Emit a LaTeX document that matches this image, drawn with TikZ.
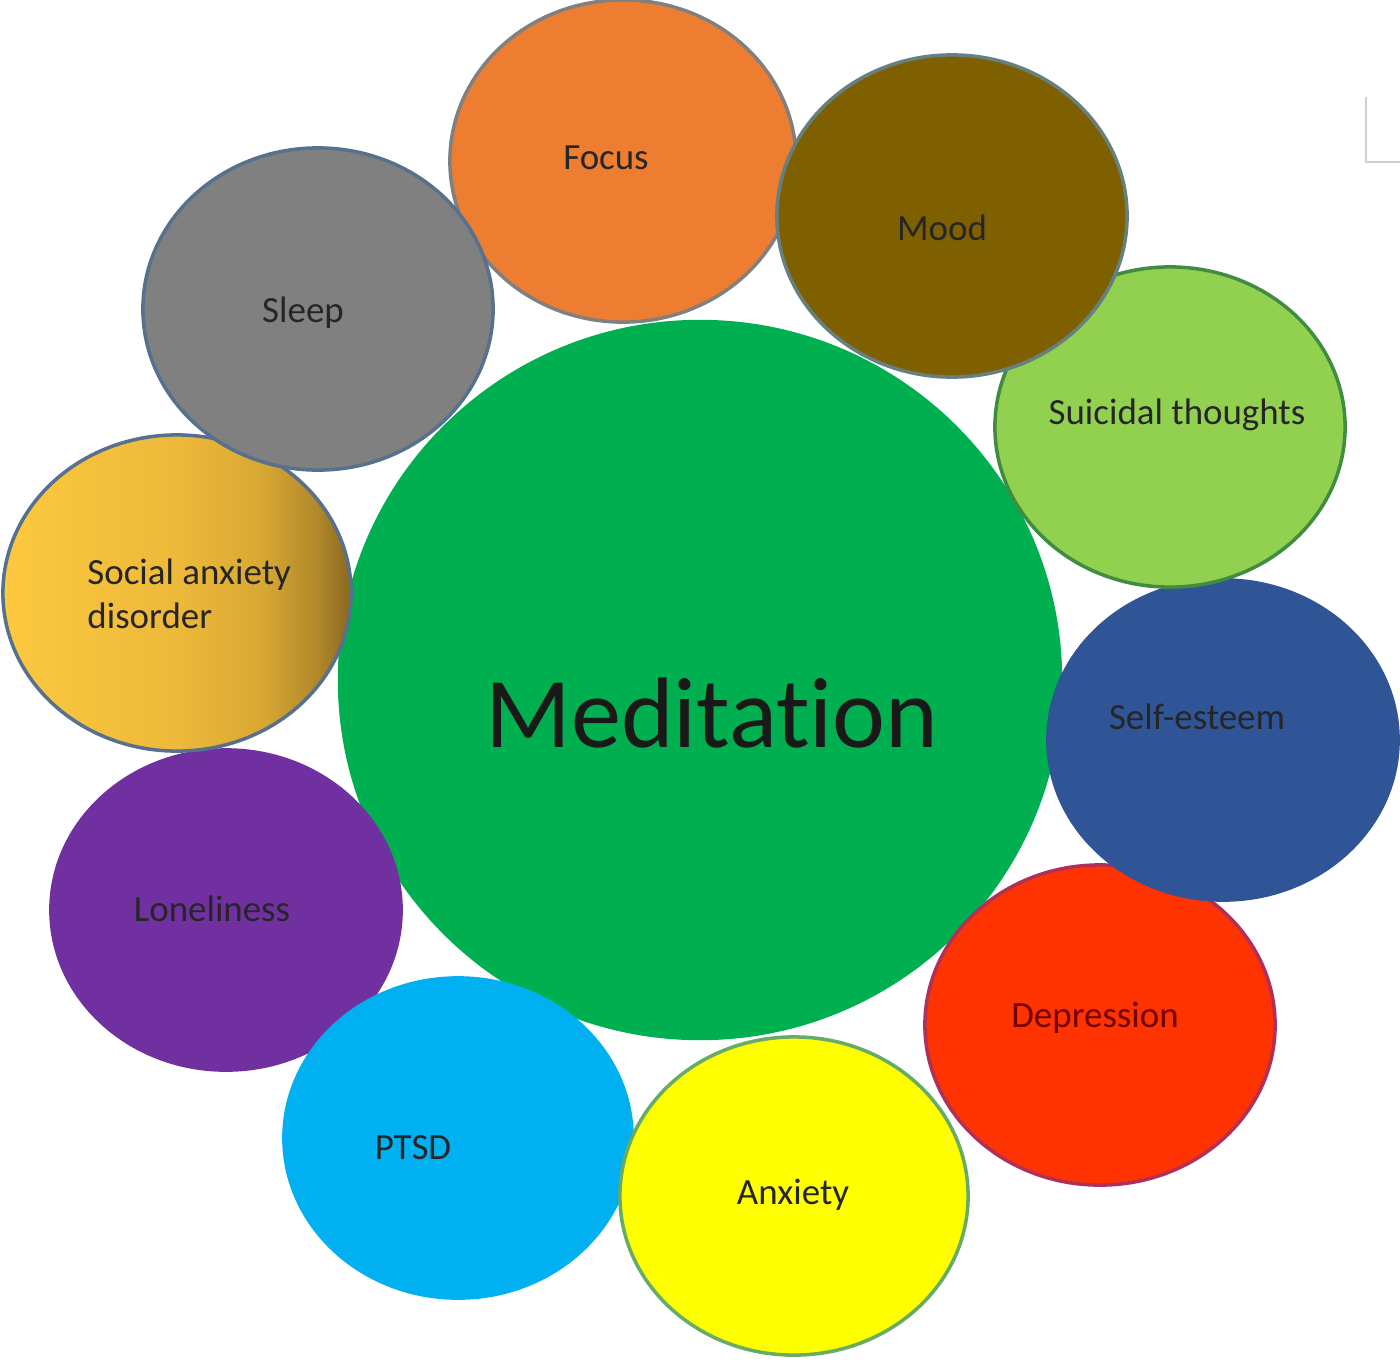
\documentclass[tikz,border=0pt]{standalone}
\usepackage{fontspec}
\setmainfont{Carlito}[Ligatures=NoCommon]
\usetikzlibrary{shapes.geometric}
\definecolor{medgreen}{HTML}{00B050}
\definecolor{focusorange}{HTML}{ED7D31}
\definecolor{moodbrown}{HTML}{7F6000}
\definecolor{suicidalgreen}{HTML}{92D050}
\definecolor{esteemblue}{HTML}{2F5597}
\definecolor{depred}{HTML}{FF3300}
\definecolor{deprim}{HTML}{B0305A}
\definecolor{anxyellow}{HTML}{FFFF00}
\definecolor{ptsdblue}{HTML}{00B0F0}
\definecolor{lonepurple}{HTML}{7030A0}
\definecolor{sleepgray}{HTML}{808080}
\definecolor{socialgoldA}{HTML}{FCC93F}
\definecolor{socialgoldB}{HTML}{EDB93A}
\definecolor{socialgoldC}{HTML}{8A6820}
\definecolor{rimblue}{HTML}{56708E}
\definecolor{bracketgray}{HTML}{C5D2DC}
\pgfdeclarehorizontalshading{socialshade}{100bp}{
  color(0bp)=(socialgoldA); color(25bp)=(socialgoldA); color(50bp)=(socialgoldB);
  color(62bp)=(socialgoldB!80!socialgoldC); color(70bp)=(socialgoldB!40!socialgoldC);
  color(75bp)=(socialgoldC); color(100bp)=(socialgoldC)}
\begin{document}
\begin{tikzpicture}[
        x=0.01cm, y=-0.01cm,
        bubble/.style={
          ellipse,
          draw=rimblue,
          line width=1pt,
          minimum width=3.5cm,
          minimum height=3.2cm,
          inner sep=0pt
        },
        caption/.style={font=\fontsize{10.5}{12.5}\selectfont, text=black!85}
      ]
      \useasboundingbox (0,0) rectangle (1400,1363);

      % centre bubble
      \node[ellipse, fill=medgreen, minimum width=7.24cm, minimum height=7.2cm,
        inner sep=0pt] (meditation) at (700,680) {};
      \node[font=\fontsize{28.5}{32}\selectfont, text=black!90] (meditationtxt)
        at (712,713) {Meditation};

      % outer bubbles
      \node[bubble, fill=lonepurple, draw=lonepurple] (loneliness) at (226,910) {};
      \node[bubble, fill=ptsdblue, draw=ptsdblue, minimum width=3.48cm] (ptsd)
        at (458,1138) {};
      \node[bubble, fill=anxyellow, draw=black!55!green!60, minimum width=3.48cm,
        minimum height=3.18cm] (anxiety) at (794,1196) {};
      \node[bubble, fill=depred, draw=deprim] (depression) at (1100,1025) {};
      \node[bubble, fill=esteemblue, draw=esteemblue] (selfesteem) at (1223,740) {};
      \node[bubble, fill=suicidalgreen, draw=black!40!green!50!gray] (suicidal)
        at (1170,427) {};
      \node[bubble, fill=focusorange, draw=gray, minimum width=3.46cm,
        minimum height=3.22cm] (focus) at (623,161) {};
      \node[bubble, fill=moodbrown, draw=gray!80!teal, minimum height=3.22cm] (mood)
        at (952,216) {};
      \node[bubble, shading=socialshade, minimum width=3.48cm, minimum height=3.16cm]
        (social) at (177,593) {};
      \node[bubble, fill=sleepgray, minimum height=3.22cm] (sleep) at (318,309) {};

      % labels
      \node[caption] (focustxt) at (606,158) {Focus};
      \node[caption] (moodtxt) at (942,228) {Mood};
      \node[caption] (suicidaltxt) at (1177,415) {Suicidal thoughts};
      \node[caption] (selfesteemtxt) at (1197,717) {Self-esteem};
      \node[caption, text=red!45!black] (depressiontxt) at (1095,1018) {Depression};
      \node[caption] (anxietytxt) at (793,1195) {Anxiety};
      \node[caption] (ptsdtxt) at (413,1148) {PTSD};
      \node[caption] (lonelinesstxt) at (212,909) {Loneliness};
      \node[caption, align=left, anchor=west] (socialtxt) at (75,594)
        {Social anxiety\\disorder};
      \node[caption] (sleeptxt) at (303,313) {Sleep};

      % corner mark
      \coordinate (marktop) at (1366,97);
      \coordinate (markcorner) at (1366,162);
      \coordinate (markend) at (1400,162);
      \draw[bracketgray, line width=0.8pt] (marktop) -- (markcorner) -- (markend);
    \end{tikzpicture}
\end{document}
